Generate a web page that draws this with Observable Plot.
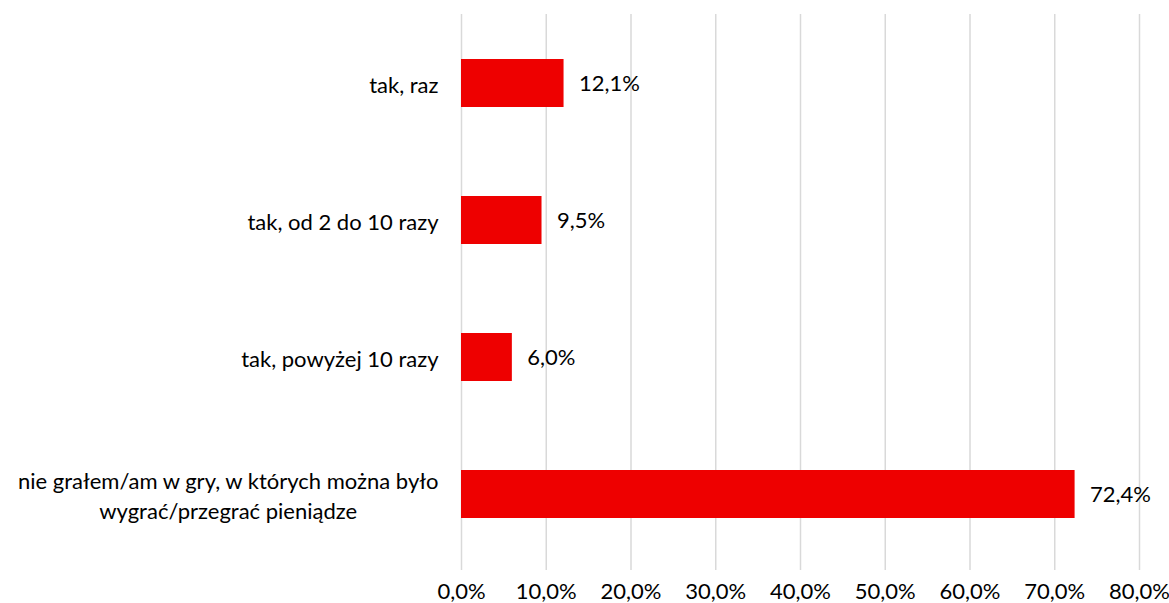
<!DOCTYPE html>
<html><head><meta charset="utf-8">
<script src="https://cdn.jsdelivr.net/npm/d3@7"></script>
<script src="https://cdn.jsdelivr.net/npm/@observablehq/plot@0.6"></script>
<style>
html,body{margin:0;padding:0;background:#fff;}
</style>
</head><body>
<div id="chart"></div>
<script>
const categories = [
  "tak, raz",
  "tak, od 2 do 10 razy",
  "tak, powyżej 10 razy",
  "nie grałem/am w gry, w których można było\nwygrać/przegrać pieniądze"
];
const values = [12.1, 9.5, 6.0, 72.4];
const xTicks = [0, 10, 20, 30, 40, 50, 60, 70, 80];

const data = categories.map((c, i) => ({category: c, value: values[i]}));
const fmt = d => d.toFixed(1).replace(".", ",") + "%";
const font = "Lato, 'Open Sans', sans-serif";
const fs = 22;

const chart = Plot.plot({
  width: 1169,
  height: 603,
  marginLeft: 461,
  marginRight: 30,
  marginTop: 14,
  marginBottom: 33,
  style: {fontFamily: font, fontSize: fs + "px", color: "#000", background: "#fff"},
  x: {domain: [0, 80], ticks: xTicks, label: null},
  y: {domain: categories, paddingInner: 0.65, paddingOuter: 0.325, insetBottom: 8, label: null},
  marks: [
    Plot.ruleX(xTicks, {stroke: "#d9d9d9", strokeWidth: 1.5}),
    Plot.barX(data, {y: "category", x: "value", fill: "#ee0000"}),
    Plot.text(data, {y: "category", x: "value", text: d => fmt(d.value), textAnchor: "start", dx: 15, fontSize: fs, fill: "#000"}),
    Plot.axisX({ticks: xTicks, tickFormat: fmt, tickSize: 0, tickPadding: 13, fontSize: fs, label: null}),
    Plot.axisY({tickSize: 0, tickPadding: 23, fontSize: fs, label: null, lineHeight: 1.35})
  ]
});
document.getElementById("chart").appendChild(chart);

// Centre the lines of the wrapped category label within its block (right edge kept)
chart.querySelectorAll("text").forEach(t => {
  const spans = t.querySelectorAll("tspan");
  if (spans.length > 1) {
    const bb = t.getBBox();
    const center = bb.x + bb.width / 2;
    t.setAttribute("text-anchor", "middle");
    spans.forEach(s => s.setAttribute("x", center));
  }
});
</script>
</body></html>
